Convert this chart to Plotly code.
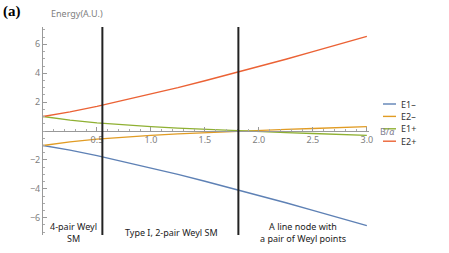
import plotly.graph_objects as go

# ---- data ----
B = [0.0, 0.25, 0.5, 0.75, 1.0, 1.25, 1.5, 1.75, 2.0, 2.25, 2.5, 2.75, 3.0]
E1_minus = [-1.0, -1.32, -1.7, -2.12, -2.55, -3.0, -3.48, -3.97, -4.47, -4.97, -5.5, -6.02, -6.55]
E2_minus = [-1.0, -0.75, -0.56, -0.42, -0.3, -0.2, -0.11, -0.03, 0.04, 0.11, 0.17, 0.23, 0.3]
E1_plus = [1.0, 0.75, 0.56, 0.42, 0.3, 0.2, 0.11, 0.03, -0.04, -0.11, -0.17, -0.23, -0.3]
E2_plus = [1.0, 1.32, 1.7, 2.12, 2.55, 3.0, 3.48, 3.97, 4.47, 4.97, 5.5, 6.02, 6.55]
series_names = ["E1\u2013", "E2\u2013", "E1+", "E2+"]
series_colors = ["#5E81B5", "#E19C24", "#8FB032", "#EB6235"]
boundaries = [0.55, 1.81]
region_labels = ["4-pair Weyl<br>SM", "Type I, 2-pair Weyl SM", "A line node with<br>a pair of Weyl points"]
region_centers = [0.28, 1.19, 2.41]
x_ticks = [0.5, 1.0, 1.5, 2.0, 2.5, 3.0]
y_ticks = [-6, -4, -2, 2, 4, 6]
x_range = [0, 3.02]
y_range = [-7.2, 7.2]

W, H = 449, 253
ML, MR, MT, MB = 43, 80, 27, 18
PW, PH = W - ML - MR, H - MT - MB


def px_x(p):
    return (p - ML) / PW


def px_y(p):
    return (H - MB - p) / PH


fig = go.Figure()
for name, vals, col in zip(series_names, [E1_minus, E2_minus, E1_plus, E2_plus], series_colors):
    fig.add_trace(go.Scatter(x=B, y=vals, mode="lines", name=name, showlegend=False,
                             line=dict(color=col, width=1.4)))

for b in boundaries:
    fig.add_shape(type="line", x0=b, x1=b, y0=y_range[0], y1=y_range[1],
                  xref="x", yref="y", line=dict(color="#222222", width=2))

for lab, cx in zip(region_labels, region_centers):
    fig.add_annotation(x=cx, y=-7.05, xref="x", yref="y", text=lab, showarrow=False,
                       font=dict(size=9, color="#222222", family="Noto Sans"),
                       yanchor="middle", xanchor="center")

# manual compact legend
for i, (name, col) in enumerate(zip(series_names, series_colors)):
    yy = px_y(104 + i * 12.4)
    fig.add_shape(type="line", xref="paper", yref="paper", x0=px_x(383), x1=px_x(396),
                  y0=yy, y1=yy, line=dict(color=col, width=1.4))
    fig.add_annotation(x=px_x(399), y=yy, xref="paper", yref="paper", text=name,
                       showarrow=False, xanchor="left", yanchor="middle",
                       font=dict(size=9, color="#333333", family="Noto Sans"))

fig.add_annotation(x=0, y=1.0, xref="paper", yref="paper", text="Energy(A.U.)",
                   showarrow=False, xanchor="left", yanchor="middle", xshift=6, yshift=14,
                   font=dict(size=9, color="#808080", family="Noto Sans"))
fig.add_annotation(x=x_range[1], y=0, xref="x", yref="y", text="B/<i>\u03b1</i>",
                   showarrow=False, xanchor="left", yanchor="middle", xshift=9,
                   font=dict(size=9, color="#808090", family="Noto Sans"))
fig.add_annotation(x=0, y=1.0, xref="paper", yref="paper", text="<b>(a)</b>",
                   showarrow=False, xanchor="left", yanchor="middle", xshift=-42, yshift=16,
                   font=dict(size=15, color="#000000", family="Liberation Serif"))

y_pos = (0 - y_range[0]) / (y_range[1] - y_range[0])
fig.update_layout(
    width=W, height=H,
    margin=dict(l=ML, r=MR, t=MT, b=MB),
    paper_bgcolor="white", plot_bgcolor="white",
    font=dict(family="Noto Sans", size=9, color="#808080"),
    showlegend=False,
    xaxis=dict(range=x_range, anchor="free", position=y_pos, showgrid=False, zeroline=False,
               showline=True, linecolor="#999999", linewidth=1,
               ticks="inside", ticklen=4, tickcolor="#999999",
               tickvals=x_ticks, ticktext=[f"{v:.1f}" for v in x_ticks],
               tickfont=dict(size=9, color="#808080"),
               minor=dict(dtick=0.1, ticks="inside", ticklen=2, tickcolor="#aaaaaa")),
    yaxis=dict(range=y_range, showgrid=False, zeroline=False,
               showline=True, linecolor="#999999", linewidth=1,
               ticks="inside", ticklen=4, tickcolor="#999999",
               tickvals=y_ticks, ticktext=[str(v).replace("-", "\u2212") for v in y_ticks],
               tickfont=dict(size=9, color="#808080"),
               minor=dict(dtick=0.5, ticks="inside", ticklen=2, tickcolor="#aaaaaa")),
)

fig.write_html("out.html", config={"displayModeBar": False},
               post_script="document.body.style.margin='0px';")
